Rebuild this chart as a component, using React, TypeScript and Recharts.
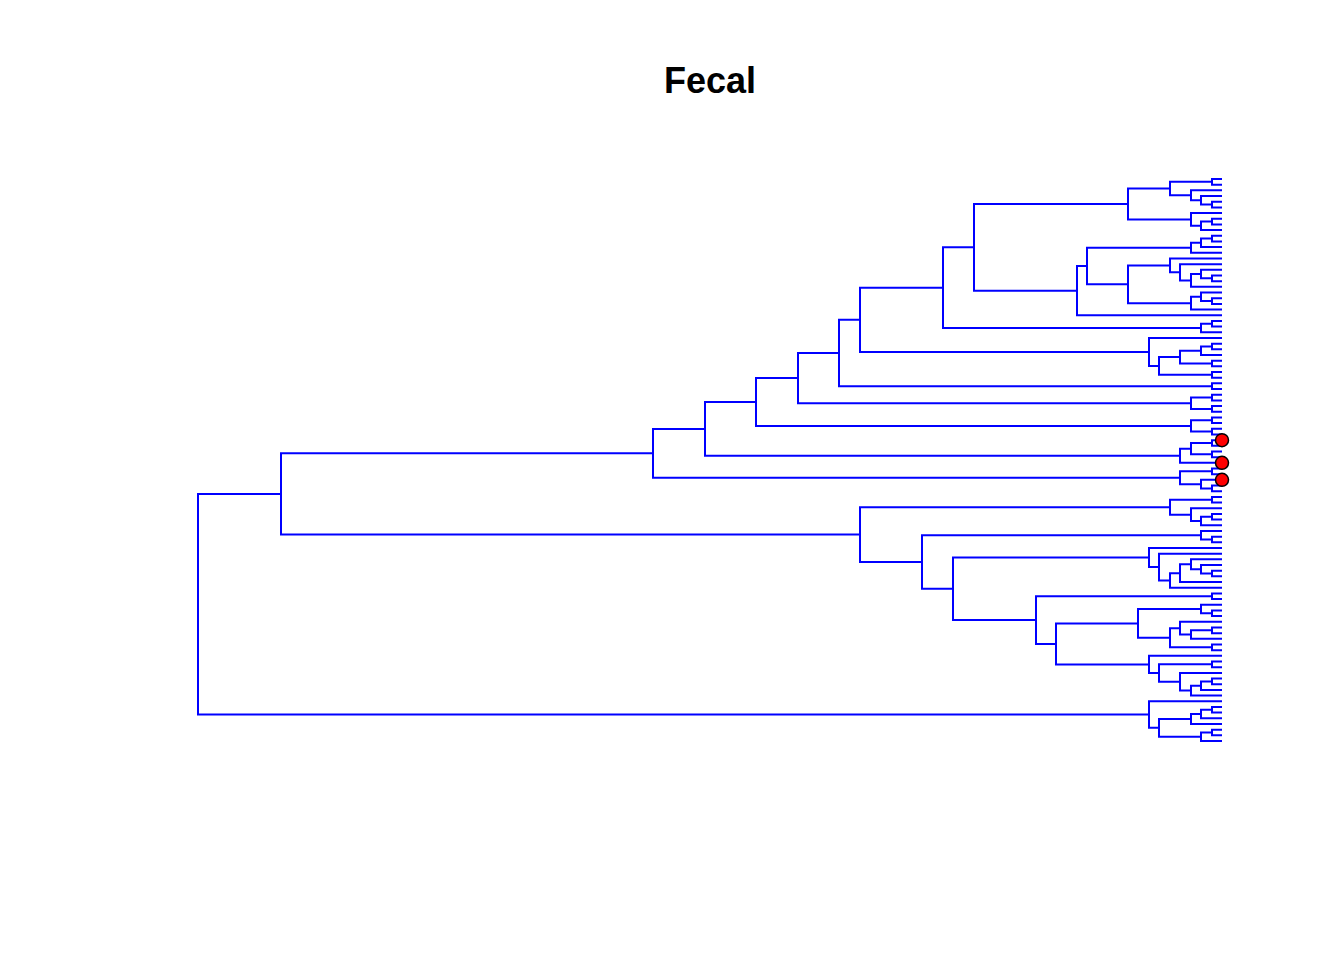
import React from "react";
import { ComposedChart, Line, Scatter, XAxis, YAxis } from "recharts";

// tree nodes: 0 = leaf, [height, upper, lower] = merge
type T = 0 | [number, T, T];

const clusterA: T = [94, [52, [10, 0, 0], [31, 0, [21, 0, [10, 0, 0]]]], [31, 0, [21, [10, 0, 0], 0]]];
const clusterB: T = [31, [21, [10, 0, 0], 0], 0];
const clusterC: T = [94, [52, 0, [42, 0, [31, [21, 0, [10, 0, 0]], 0]]], [31, [21, 0, [10, 0, 0]], 0]];
const clusterD: T = [21, [10, 0, 0], 0];
const clusterE: T = [73, 0, [63, [42, [21, [10, 0, 0], 0], [10, 0, 0]], [10, 0, 0]]];
const clusterF: T = [10, 0, 0];
const clusterG: T = [31, [10, 0, 0], [10, 0, 0]];
const clusterH: T = [31, [10, 0, 0], [10, 0, 0]];
const clusterI: T = [42, [31, [10, 0, 0], [10, 0, 0]], 0];
const clusterJ: T = [42, [10, 0, 0], [21, 0, [10, 0, 0]]];
const clusterK: T = [52, [10, 0, 0], [31, 0, [21, [10, 0, 0], 0]]];
const clusterL: T = [21, 0, [10, 0, 0]];
const clusterM: T = [73, 0, [63, 0, [52, [42, [31, 0, [21, 0, [10, 0, 0]]], 0], 0]]];
const clusterN: T = [10, 0, 0];
const clusterO: T = [84, [21, 0, [10, 0, 0]], [52, [42, 0, [31, [10, 0, 0], 0]], [10, 0, 0]]];
const clusterP: T = [73, 0, [63, [10, 0, 0], [42, 0, [31, [21, [10, 0, 0], 0], 0]]]];
const clusterQ: T = [73, 0, [63, [31, [21, [10, 0, 0], 0], 0], [21, [10, 0, 0], 0]]];

// upper half of the tree (heights of the long branches)
const upperTree: T =
  [569,
    [517,
      [466,
        [424,
          [383,
            [362,
              [279,
                [248, clusterA, [145, [135, clusterB, clusterC], 0]],
                clusterD],
              clusterE],
            clusterF],
          clusterG],
        clusterH],
      clusterI],
    clusterJ];

const lowerTree: T = [362, clusterK, [300, clusterL, [269, clusterM, [186, clusterN, [166, clusterO, clusterP]]]]];

const rootTree: T = [1024, [941, upperTree, lowerTree], clusterQ];

const markedLeaves = [46, 50, 53];

type Pt = { x: number; y: number | null };

function buildSegments(tree: T) {
  const pts: Pt[] = [];
  let leaf = 0;
  const walk = (t: T): { y: number; h: number } => {
    if (t === 0) return { y: leaf++, h: 0 };
    const [h, a, b] = t;
    const A = walk(a);
    const B = walk(b);
    pts.push({ x: A.h, y: A.y }, { x: h, y: A.y }, { x: h, y: B.y }, { x: B.h, y: B.y }, { x: h, y: null });
    return { y: (A.y + B.y) / 2, h };
  };
  walk(tree);
  return { pts, nLeaves: leaf };
}

const { pts: segments, nLeaves } = buildSegments(rootTree);
const marks = markedLeaves.map((i) => ({ x: 0, y: i }));

const RedDot = (p: any) => (
  <circle cx={p.cx} cy={p.cy} r={6.5} fill="#ff0000" stroke="#000000" strokeWidth={1.5} />
);

export default function App() {
  return (
    <div style={{ position: "absolute", left: 0, top: 0, width: 1344, height: 960, background: "#fff" }}>
      <div
        style={{
          position: "absolute", left: 560, top: 63, width: 300, textAlign: "center",
          fontFamily: "'Liberation Sans', Arial, sans-serif", fontWeight: "bold", fontSize: 36, lineHeight: "36px",
        }}
      >
        Fecal
      </div>
      <ComposedChart width={1344} height={960} margin={{ top: 179, right: 122, bottom: 219, left: 198 }}>
        <XAxis hide type="number" dataKey="x" domain={[0, 1024]} reversed />
        <YAxis hide type="number" domain={[0, nLeaves - 1]} reversed />
        <Line
          data={segments}
          dataKey="y"
          type="linear"
          stroke="#0000ff"
          strokeWidth={2}
          dot={false}
          activeDot={false}
          connectNulls={false}
          isAnimationActive={false}
        />
        <Scatter data={marks} dataKey="y" shape={RedDot} isAnimationActive={false} />
      </ComposedChart>
    </div>
  );
}
